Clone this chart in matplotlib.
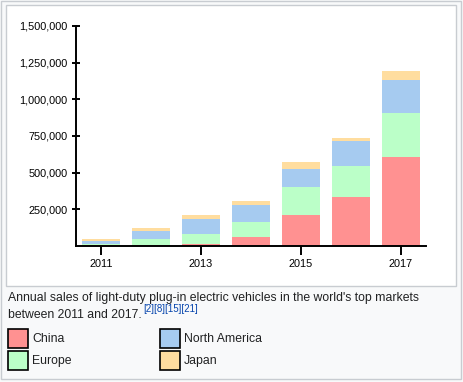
#!/usr/bin/env python3
"""
Stacked bars of annual plug-in electric vehicle sales by market, 2011-2017.
"""

import matplotlib
matplotlib.use('Agg')
import matplotlib.pyplot as plt
from matplotlib.patches import Rectangle
from matplotlib.ticker import FuncFormatter

plt.rcParams['font.family'] = ['Liberation Sans', 'DejaVu Sans']

years = [2011, 2012, 2013, 2014, 2015, 2016, 2017]
markets = ['China', 'Europe', 'North America', 'Japan']
china = [5000, 9000, 14000, 64000, 213000, 331000, 606000]
europe = [11000, 37000, 66000, 101000, 186000, 213000, 303000]
north_america = [18000, 57000, 101000, 117000, 124000, 172000, 225000]
japan = [14000, 21000, 32000, 28000, 51000, 21000, 57000]
colors = ['#ff9191', '#bbffc8', '#a6cbf0', '#ffdd9f']
y_ticks = [250000, 500000, 750000, 1000000, 1250000, 1500000]
x_ticks = [2011, 2013, 2015, 2017]
caption = "Annual sales of light-duty plug-in electric vehicles in the world's top markets"
caption2 = "between 2011 and 2017."
refs = "[2][8][15][21]"

W, H = 463, 382
fig = plt.figure(figsize=(W / 100, H / 100), dpi=100)
fig.patch.set_facecolor('#f8f9fa')


def px(x, y):
    # pixel coords from top-left -> figure fraction
    return x / W, 1 - y / H


def box(x0, y0, x1, y1, **kw):
    fx, fy = px(x0, y1)
    fig.patches.append(Rectangle((fx, fy), (x1 - x0) / W, (y1 - y0) / H,
                                 transform=fig.transFigure, **kw))


# outer and inner frames (behind the axes)
box(1, 1, 461, 379, facecolor='#f8f9fa', edgecolor='#c8ccd1', linewidth=1, zorder=-2)
box(6, 5, 456, 286, facecolor='white', edgecolor='#c8ccd1', linewidth=1, zorder=-1)

# chart axes
left, top, right, bottom = 76, 26, 426, 246
ax = fig.add_axes([left / W, 1 - bottom / H, (right - left) / W, (bottom - top) / H])
ax.set_facecolor('none')

series = [china, europe, north_america, japan]
base = [0] * len(years)
for vals, col in zip(series, colors):
    ax.bar(years, vals, width=0.76, bottom=base, color=col, linewidth=0)
    base = [b + v for b, v in zip(base, vals)]

ax.set_xlim(2010.5, 2017.5)
ax.set_ylim(0, 1500000)
ax.set_xticks(x_ticks)
ax.set_yticks(y_ticks)
ax.yaxis.set_major_formatter(FuncFormatter(lambda v, p: f'{int(v):,}'))

for s in ['top', 'right']:
    ax.spines[s].set_visible(False)
ax.spines['left'].set_linewidth(1.4)
ax.spines['bottom'].set_linewidth(1.4)
ax.tick_params(axis='y', direction='inout', length=6, width=1.4, pad=3, labelsize=7.8)
ax.tick_params(axis='x', direction='out', length=6.5, width=1.4, pad=3, labelsize=7.8)

# caption with superscript references
fig.text(*px(8, 298), caption, fontsize=8.8, va='center', ha='left', color='#202122')
t2 = fig.text(*px(8, 315), caption2, fontsize=8.8, va='center', ha='left', color='#202122')
ax.annotate(refs, xy=(1, 0.55), xycoords=t2, xytext=(1, 0), textcoords='offset points',
            fontsize=7, color='#0645ad', va='bottom', ha='left', annotation_clip=False)

# legend swatches
legend_pos = [(8, 329), (8, 351), (160, 329), (160, 351)]
for (lx, ly), name, col in zip(legend_pos, markets, colors):
    box(lx, ly, lx + 20, ly + 19, facecolor=col, edgecolor='black', linewidth=1.2)
    fig.text(*px(lx + 24, ly + 10), name, fontsize=8.8, va='center', ha='left',
             color='#202122')

plt.savefig('out.png', dpi=100)
